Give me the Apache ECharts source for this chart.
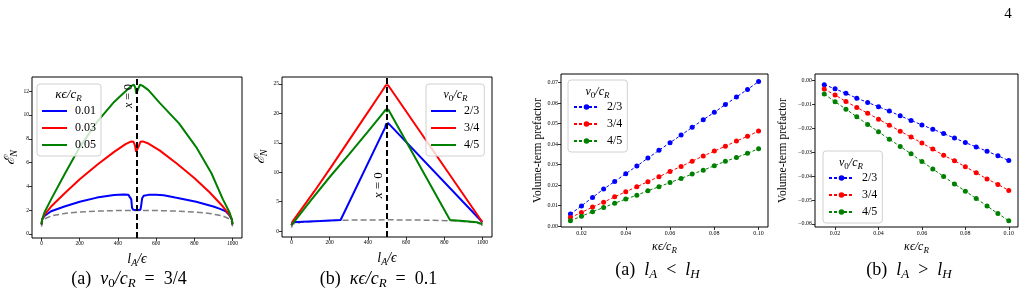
<!DOCTYPE html>
<html>
<head>
<meta charset="utf-8">
<script src="https://cdn.jsdelivr.net/npm/echarts@6/dist/echarts.min.js"></script>
<style>
html, body { margin: 0; padding: 0; background: #fff; }
#main { width: 1025px; height: 294px; }
</style>
</head>
<body>
<div id="main"></div>
<script>
var SERIF = "'Liberation Serif', 'DejaVu Serif', serif";

// fig (a) left: E_N vs l_A/eps for v0/cR = 3/4
var aBlue = [[0,0.8],[3,1.2],[15,1.5],[50,1.9],[120,2.3],[200,2.7],[290,3.05],[380,3.27],[430,3.32],[455,3.28],[465,3.18],[470,2.9],[474,2.2],[480,2.03],[500,2.0],[518,2.03],[522,2.4],[527,3.0],[535,3.2],[560,3.28],[600,3.3],[640,3.25],[700,3.05],[810,2.7],[900,2.3],[935,2.1],[965,1.9],[985,1.55],[997,1.2],[1000,0.8]];
var aRed = [[0,0.8],[3,1.2],[15,1.6],[50,2.3],[120,3.4],[200,4.6],[290,5.8],[380,6.9],[440,7.55],[470,7.78],[482,7.75],[490,7.4],[495,6.9],[500,6.8],[505,6.9],[510,7.4],[518,7.75],[530,7.78],[560,7.6],[620,7.0],[710,5.9],[800,4.7],[880,3.5],[950,2.3],[985,1.6],[997,1.2],[1000,0.8]];
var aGreen = [[0,0.8],[3,1.2],[15,1.8],[50,2.9],[120,5.0],[200,7.3],[290,9.4],[380,11.1],[440,12.0],[470,12.45],[484,12.55],[491,12.3],[496,11.8],[500,11.7],[504,11.8],[509,12.3],[516,12.55],[530,12.45],[560,12.1],[620,11.0],[720,9.3],[810,7.3],[890,5.1],[950,2.9],[985,1.8],[997,1.2],[1000,0.8]];
var aGray = [[0,0.6],[3,1.0],[15,1.25],[50,1.5],[120,1.72],[200,1.83],[300,1.92],[400,1.96],[500,1.97],[600,1.96],[700,1.92],[800,1.83],[880,1.72],[950,1.5],[985,1.25],[997,1.0],[1000,0.6]];

// fig (b) left: kappa eps / cR = 0.1, three velocities
var bBlue = [[0,1.0],[5,1.5],[60,1.6],[150,1.7],[257,1.9],[490,17.6],[496,18.3],[500,17.9],[505,18.4],[515,18.6],[1000,1.5]];
var bRed = [[0,1.0],[5,1.6],[118,6.7],[205,10.8],[292,15.0],[379,19.2],[466,23.4],[494,24.8],[500,24.5],[506,24.8],[1000,1.5]];
var bGreen = [[0,1.0],[5,1.3],[100,5.2],[200,9.2],[300,13.0],[400,16.9],[480,20.1],[494,20.7],[500,20.3],[506,20.7],[520,19.9],[830,1.9],[900,1.7],[970,1.5],[1000,1.2]];
var bGray = [[0,0.6],[5,1.2],[50,1.5],[150,1.72],[260,1.85],[400,1.9],[500,1.92],[600,1.9],[740,1.85],[850,1.75],[950,1.5],[995,1.2],[1000,0.6]];

// volume-term prefactor vs kappa eps / cR
var kappa = [0.015, 0.02, 0.025, 0.03, 0.035, 0.04, 0.045, 0.05, 0.055, 0.06, 0.065, 0.07, 0.075, 0.08, 0.085, 0.09, 0.095, 0.1];
var cBlue = [0.0059, 0.0099, 0.014, 0.0181, 0.0218, 0.0256, 0.0293, 0.0332, 0.037, 0.0407, 0.0444, 0.0482, 0.0519, 0.0555, 0.0593, 0.063, 0.0667, 0.0705];
var cRed = [0.0042, 0.0067, 0.0093, 0.0117, 0.0143, 0.0168, 0.0192, 0.0217, 0.0241, 0.0267, 0.0291, 0.0317, 0.0342, 0.0366, 0.039, 0.0415, 0.0438, 0.0464];
var cGreen = [0.0026, 0.0049, 0.007, 0.0091, 0.0112, 0.0132, 0.0151, 0.0173, 0.0192, 0.0213, 0.0233, 0.0254, 0.0273, 0.0295, 0.0316, 0.0335, 0.0355, 0.0378];
var dBlue = [-0.0018, -0.0035, -0.0054, -0.0074, -0.0092, -0.011, -0.0128, -0.0148, -0.0167, -0.0186, -0.0204, -0.0222, -0.0241, -0.026, -0.0278, -0.0296, -0.0315, -0.0335];
var dRed = [-0.0036, -0.0061, -0.0088, -0.0113, -0.0137, -0.0162, -0.0187, -0.0212, -0.0237, -0.0262, -0.0287, -0.0313, -0.0336, -0.0361, -0.0386, -0.0412, -0.0435, -0.046];
var dGreen = [-0.0057, -0.0089, -0.012, -0.0152, -0.0184, -0.0215, -0.0246, -0.0276, -0.0307, -0.0339, -0.037, -0.0402, -0.0433, -0.0463, -0.0494, -0.0525, -0.0557, -0.0587];

var aXTicks = [0, 200, 400, 600, 800, 1000];
var aYTicks = [0, 2, 4, 6, 8, 10, 12];
var bYTicks = [0, 5, 10, 15, 20, 25];
var kTicks = [0.02, 0.04, 0.06, 0.08, 0.1];
var cYTicks = [0, 0.01, 0.02, 0.03, 0.04, 0.05, 0.06, 0.07];
var dYTicks = [0, -0.01, -0.02, -0.03, -0.04, -0.05, -0.06];

var BLUE = '#0000ff', RED = '#ff0000', GREEN = '#008000', GRAY = '#808080';

var richSet = function (size) {
    var lh = Math.round(size * 1.3);
    return {
        n: {fontFamily: SERIF, fontSize: size, lineHeight: lh, color: '#000'},
        m: {fontFamily: SERIF, fontStyle: 'italic', fontSize: size, lineHeight: lh, color: '#000'},
        s: {fontFamily: SERIF, fontStyle: 'italic', fontSize: Math.round(size * 0.72), verticalAlign: 'bottom', color: '#000'},
        z: {fontFamily: SERIF, fontSize: Math.round(size * 0.72), verticalAlign: 'bottom', color: '#000'}
    };
};

var pairs = function (xs, ys) {
    return xs.map(function (x, i) { return [x, ys[i]]; });
};

var axis = function (gridIndex, min, max, ticks, fmt, tickFont) {
    return {
        type: 'value',
        gridIndex: gridIndex,
        min: min,
        max: max,
        axisLine: {show: false, onZero: false},
        splitLine: {show: false},
        axisTick: {show: true, length: 3, customValues: ticks, lineStyle: {color: '#000', width: 0.8}},
        axisLabel: {customValues: ticks, formatter: fmt, fontSize: tickFont || 6, fontFamily: SERIF, color: '#000', margin: 3}
    };
};

var withName = function (ax, name, gap, rich, rotate, size) {
    ax.name = name;
    ax.nameLocation = 'middle';
    ax.nameGap = gap;
    if (rotate) ax.nameRotate = 90;
    ax.nameTextStyle = {rich: rich, fontFamily: SERIF, fontSize: size || 11, color: '#000'};
    return ax;
};

var intFmt = function (v) { return String(Math.round(v)); };
var f2 = function (v) {
    if (Math.abs(v) < 1e-9) return '0.00';
    return (v < 0 ? '\u2212' : '') + Math.abs(v).toFixed(2);
};

var curve = function (name, data, color, g) {
    return {
        name: name, type: 'line', data: data, xAxisIndex: g, yAxisIndex: g,
        symbol: 'none', showSymbol: false, smooth: false, z: 3,
        lineStyle: {color: color, width: 2}, itemStyle: {color: color}
    };
};

var dots = function (name, ys, color, g) {
    return {
        name: name, type: 'line', data: pairs(kappa, ys), xAxisIndex: g, yAxisIndex: g,
        symbol: 'circle', symbolSize: 5,
        lineStyle: {color: color, width: 1, type: [3, 2]}, itemStyle: {color: color}
    };
};

var zeroLine = function (lo, hi, size) {
    return {
        silent: true, symbol: 'none', animation: false,
        data: [
            {xAxis: 500, lineStyle: {color: '#000', width: 2, type: [6, 3]}, label: {show: false}},
            [{coord: [500, lo], lineStyle: {color: 'rgba(0,0,0,0)', width: 1, type: 'solid'}, label: {
                show: true, position: 'insideMiddleTop', distance: 2,
                formatter: '{m|x} = 0', color: '#000', fontFamily: SERIF, fontSize: size,
                rich: {m: {fontFamily: SERIF, fontStyle: 'italic', fontSize: size, color: '#000'}}
            }}, {coord: [500, hi]}]
        ]
    };
};

var grayCurve = function (data, g, mark) {
    return {
        name: 'gray' + g, type: 'line', data: data, xAxisIndex: g, yAxisIndex: g,
        symbol: 'none', showSymbol: false, z: 2,
        lineStyle: {color: GRAY, width: 1.5, type: [6, 3]},
        markLine: mark
    };
};

var legendBox = function (left, top, names, plain) {
    var lg = {
        orient: 'vertical', left: left, top: top, selectedMode: false,
        data: names, itemWidth: 25, itemHeight: plain ? 2 : 7, itemGap: 5,
        padding: [21, 5, 5, 5],
        borderColor: '#d0d0d0', borderWidth: 1, borderRadius: 3,
        backgroundColor: 'rgba(255,255,255,0.8)',
        formatter: function (name) { return name.slice(1); },
        textStyle: {fontFamily: SERIF, fontSize: 12, lineHeight: 12, color: '#000', padding: [0, 0, 0, 3]}
    };
    if (plain) lg.icon = 'rect';
    return lg;
};

var label = function (x, y, text, size, rot) {
    return {
        type: 'text', x: x, y: y, z: 100, rotation: rot || 0,
        style: {text: text, rich: richSet(size), fill: '#000', fontFamily: SERIF, fontSize: size,
            align: 'center', verticalAlign: 'middle', textAlign: 'center', textVerticalAlign: 'middle'}
    };
};

var chart = echarts.init(document.getElementById('main'), null, {renderer: 'canvas'});

var option = {
    animation: false,
    backgroundColor: '#fff',
    grid: [
        {left: 32, top: 77, width: 210, height: 161, show: true, borderColor: '#000', borderWidth: 1},
        {left: 282, top: 77, width: 210, height: 160, show: true, borderColor: '#000', borderWidth: 1},
        {left: 561, top: 74, width: 207, height: 153, show: true, borderColor: '#000', borderWidth: 1},
        {left: 815, top: 74, width: 203, height: 153, show: true, borderColor: '#000', borderWidth: 1}
    ],
    xAxis: [
        withName(axis(0, -50, 1050, aXTicks, intFmt, 5.5), '{m|l}{s|A}{m|/ϵ}', 9, richSet(14)),
        withName(axis(1, -50, 1050, aXTicks, intFmt, 5.5), '{m|l}{s|A}{m|/ϵ}', 9, richSet(14)),
        withName(axis(2, 0.01075, 0.10425, kTicks, f2), '{m|κϵ/c}{s|R}', 10, richSet(12)),
        withName(axis(3, 0.01075, 0.10425, kTicks, f2), '{m|κϵ/c}{s|R}', 10, richSet(12))
    ],
    yAxis: [
        withName(axis(0, -0.35, 13.2, aYTicks, intFmt, 5.5), '{m|ℰ}{s|N}', 12, richSet(14), true),
        withName(axis(1, -1.0, 26.2, bYTicks, intFmt, 5.5), '{m|ℰ}{s|N}', 12, richSet(14), true),
        withName(axis(2, -0.0004, 0.0742, cYTicks, f2), 'Volume-term prefactor', 17, null, true, 11.5),
        withName(axis(3, -0.0613, 0.0027, dYTicks, f2), 'Volume-term prefactor', 26, null, true, 11.5)
    ],
    legend: [
        legendBox(37, 84, ['a0.01', 'a0.03', 'a0.05'], true),
        legendBox(426, 84, ['b2/3', 'b3/4', 'b4/5'], true),
        legendBox(568, 80, ['c2/3', 'c3/4', 'c4/5'], false),
        legendBox(823, 151, ['d2/3', 'd3/4', 'd4/5'], false)
    ],
    series: [
        grayCurve(aGray, 0, zeroLine(10.6, 12.6, 12)),
        curve('a0.01', aBlue, BLUE, 0),
        curve('a0.03', aRed, RED, 0),
        curve('a0.05', aGreen, GREEN, 0),
        grayCurve(bGray, 1, zeroLine(6.8, 8.8, 13)),
        curve('b2/3', bBlue, BLUE, 1),
        curve('b3/4', bRed, RED, 1),
        curve('b4/5', bGreen, GREEN, 1),
        dots('c2/3', cBlue, BLUE, 2),
        dots('c3/4', cRed, RED, 2),
        dots('c4/5', cGreen, GREEN, 2),
        dots('d2/3', dBlue, BLUE, 3),
        dots('d3/4', dRed, RED, 3),
        dots('d4/5', dGreen, GREEN, 3)
    ],
    graphic: [
        label(68.5, 95, '{m|κϵ/c}{s|R}', 13),
        label(455.5, 95, '{m|v}{z|0}{m|/c}{s|R}', 12),
        label(597.5, 92, '{m|v}{z|0}{m|/c}{s|R}', 12),
        label(851, 163, '{m|v}{z|0}{m|/c}{s|R}', 12),
        label(129, 279, '{n|(a)  }{m|v}{z|0}{m|/c}{s|R}{n|  =  3/4}', 18),
        label(378.5, 279, '{n|(b)  }{m|κϵ/c}{s|R}{n|  =  0.1}', 18),
        label(657.5, 270, '{n|(a)  }{m|l}{s|A}{n|  <  }{m|l}{s|H}', 18),
        label(909, 270, '{n|(b)  }{m|l}{s|A}{n|  >  }{m|l}{s|H}', 18),
        label(1008, 14, '{n|4}', 15)
    ]
};

chart.setOption(option);
</script>
</body>
</html>
